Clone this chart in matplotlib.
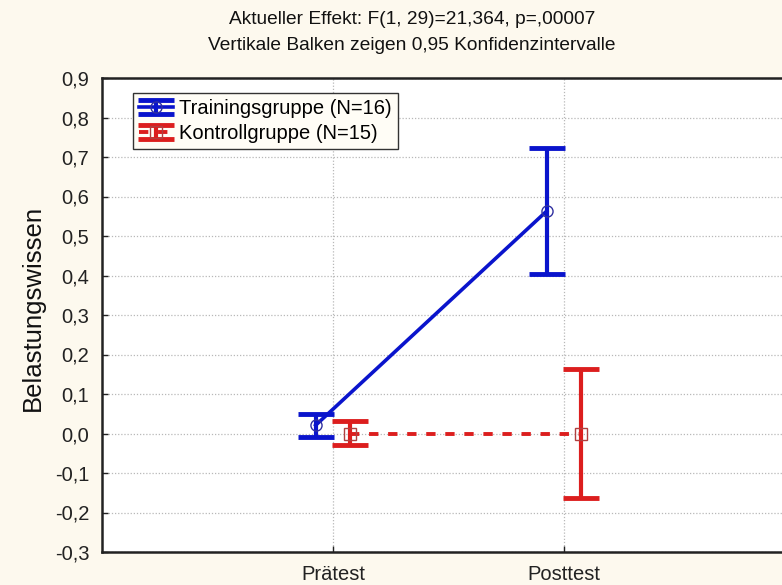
import matplotlib
matplotlib.use("Agg")
import matplotlib.pyplot as plt
from matplotlib.container import ErrorbarContainer
from matplotlib.legend_handler import HandlerErrorbar

plt.rcParams['font.family'] = ['Liberation Sans', 'DejaVu Sans']

# Data
phases = ["Prätest", "Posttest"]
train_label = "Trainingsgruppe (N=16)"
train_mean = [0.021, 0.563]
train_lo = [-0.008, 0.403]
train_hi = [0.050, 0.722]
ctrl_label = "Kontrollgruppe (N=15)"
ctrl_mean = [0.0, 0.0]
ctrl_lo = [-0.029, -0.164]
ctrl_hi = [0.032, 0.164]
yticks = [-0.3, -0.2, -0.1, 0.0, 0.1, 0.2, 0.3, 0.4, 0.5, 0.6, 0.7, 0.8, 0.9]

bg = '#FDF9EE'
blue = '#0A14CC'
red = '#DC1E1E'

fig = plt.figure(figsize=(7.82, 5.85), dpi=100, facecolor=bg)
ax = fig.add_axes([102 / 782, 33 / 585, 693 / 782, 474 / 585])
ax.set_facecolor('white')

pos = [1, 2]
off = 0.075
tx = [p - off for p in pos]
cx = [p + off for p in pos]

t_err = [[m - l for m, l in zip(train_mean, train_lo)],
         [h - m for m, h in zip(train_mean, train_hi)]]
c_err = [[m - l for m, l in zip(ctrl_mean, ctrl_lo)],
         [h - m for m, h in zip(ctrl_mean, ctrl_hi)]]

h1 = ax.errorbar(tx, train_mean, yerr=t_err, color=blue, lw=2.6, ls='-',
                 marker='o', ms=8, mfc='none', mec='#3030A0', mew=1.0,
                 elinewidth=3, capsize=13, zorder=3, label=train_label)
h2 = ax.errorbar(cx, ctrl_mean, yerr=c_err, color=red, lw=2.8, ls=(0, (2.4, 2.5)),
                 marker='s', ms=8, mfc='none', mec='#B04040', mew=1.0,
                 elinewidth=3, capsize=13, zorder=3, label=ctrl_label)
for h in (h1, h2):
    for cap in h[1]:
        cap.set_markeredgewidth(3.5)

ax.set_xlim(0, 3)
ax.set_ylim(-0.3, 0.9)
ax.set_xticks(pos)
ax.set_xticklabels(phases)
ax.set_yticks(yticks)
ax.set_yticklabels([f"{v:.1f}".replace('.', ',') for v in yticks])
ax.tick_params(direction='in', length=4, width=1, labelsize=14.5, colors='#222222')
ax.tick_params(axis='x', pad=9)
ax.tick_params(axis='y', pad=9)

ax.grid(True, color='#B8B8B8', ls=(0, (1, 1.5)), lw=0.9)
ax.set_axisbelow(True)

ax.spines['right'].set_visible(False)
for s in ['left', 'top', 'bottom']:
    ax.spines[s].set_linewidth(1.8)
    ax.spines[s].set_color('#222222')

fig.text(33 / 782, 1 - 308 / 585, "Belastungswissen", rotation=90,
         ha='center', va='center', fontsize=18.5, color='#111111')

fig.text(412 / 782, 1 - 19 / 585, "Aktueller Effekt: F(1, 29)=21,364, p=,00007",
         ha='center', va='center', fontsize=13.8, color='#111111')
fig.text(412 / 782, 1 - 45 / 585, "Vertikale Balken zeigen 0,95 Konfidenzintervalle",
         ha='center', va='center', fontsize=13.8, color='#111111')

leg = ax.legend(handles=[h1, h2], loc='upper left',
                bbox_to_anchor=((133 - 102) / 693, (552 - 93) / 474),
                fontsize=14.5, frameon=True, fancybox=False, borderpad=0.3,
                handlelength=1.7, handletextpad=0.3, labelspacing=0.3,
                borderaxespad=0,
                handler_map={ErrorbarContainer: HandlerErrorbar(yerr_size=0.36)})
leg.get_frame().set_edgecolor('#333333')
leg.get_frame().set_linewidth(1.0)
leg.get_frame().set_facecolor('#FFFDF6')
leg.get_frame().set_alpha(1)

fig.savefig("out.png", dpi=100, facecolor=bg)
